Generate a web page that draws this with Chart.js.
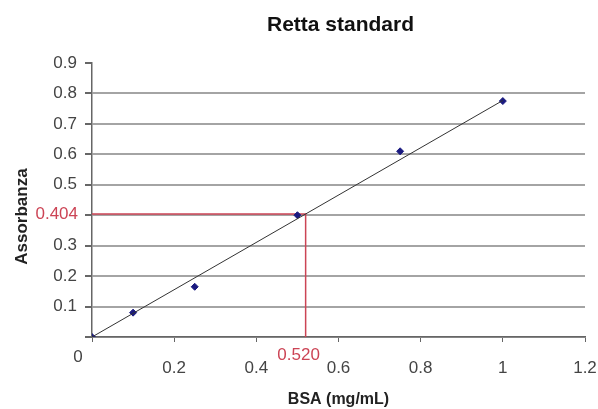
<!DOCTYPE html>
<html>
<head>
<meta charset="utf-8">
<script src="https://cdn.jsdelivr.net/npm/chart.js"></script>
<style>
  html, body { margin: 0; padding: 0; background: #fff; }
  #wrap { width: 598px; height: 409px; }
</style>
</head>
<body>
<div id="wrap"><canvas id="myChart" width="598" height="409"></canvas></div>
<script>
// dati
const bsa = [0, 0.1, 0.25, 0.5, 0.75, 1];
const assorbanza = [0, 0.08, 0.165, 0.40, 0.61, 0.775];
const trendX = [0, 1];
const trendY = [0, 0.777];
const campioneX = 0.520;
const campioneY = 0.404;

const FONT = 'Liberation Sans, Arial, sans-serif';
const RED = '#cc4455';

// titolo, linee rosse e etichette rosse
const extra = {
  id: 'extra',
  beforeDatasetsDraw(chart) {
    const ctx = chart.ctx;
    const x = chart.scales.x, y = chart.scales.y;
    ctx.save();
    ctx.strokeStyle = RED;
    ctx.lineWidth = 1.5;
    ctx.beginPath();
    ctx.moveTo(x.getPixelForValue(0), y.getPixelForValue(campioneY));
    ctx.lineTo(x.getPixelForValue(campioneX), y.getPixelForValue(campioneY));
    ctx.lineTo(x.getPixelForValue(campioneX), y.getPixelForValue(0));
    ctx.stroke();
    ctx.restore();
  },
  afterDraw(chart) {
    const ctx = chart.ctx;
    const x = chart.scales.x, y = chart.scales.y;
    const area = chart.chartArea;
    ctx.save();
    ctx.font = 'bold 21px ' + FONT;
    ctx.fillStyle = '#111';
    ctx.textAlign = 'center';
    ctx.textBaseline = 'middle';
    ctx.fillText('Retta standard', (area.left + area.right) / 2 + 2, 25);

    ctx.font = '17px ' + FONT;
    ctx.fillStyle = '#444';
    ctx.fillText('0', x.getPixelForValue(0) - 14, y.getPixelForValue(0) + 20);

    ctx.fillStyle = RED;
    ctx.textAlign = 'right';
    ctx.fillText(campioneY.toFixed(3), x.getPixelForValue(0) - 14, y.getPixelForValue(campioneY));
    ctx.textAlign = 'center';
    ctx.fillText(campioneX.toFixed(3), x.getPixelForValue(campioneX) - 7, y.getPixelForValue(0) + 18);
    ctx.restore();
  }
};

let ctx = document.getElementById('myChart').getContext('2d');
let chart = new Chart(ctx, {
  type: 'scatter',
  data: {
    datasets: [{
      type: 'line',
      data: trendX.map((v, i) => ({ x: v, y: trendY[i] })),
      borderColor: '#333',
      borderWidth: 1,
      pointRadius: 0,
      fill: false
    }, {
      data: bsa.map((v, i) => ({ x: v, y: assorbanza[i] })),
      backgroundColor: '#1a1a80',
      borderColor: '#1a1a80',
      pointStyle: 'rectRot',
      pointRadius: 3.5
    }]
  },
  options: {
    responsive: false,
    animation: false,
    layout: { padding: { top: 63, right: 13, left: 0, bottom: 0 } },
    plugins: { legend: { display: false }, tooltip: { enabled: false } },
    scales: {
      x: {
        type: 'linear',
        min: 0, max: 1.2,
        afterFit(s) { s.height = 72; s.paddingLeft = 0; s.paddingRight = 0; },
        ticks: {
          stepSize: 0.2,
          color: '#444',
          font: { family: FONT, size: 17 },
          padding: 16,
          maxRotation: 0,
          callback: v => (Math.abs(v) < 1e-9 ? '' : String(Math.round(v * 10) / 10))
        },
        grid: { drawOnChartArea: false, tickLength: 5, tickColor: '#666' },
        border: { color: '#666', width: 1.5 },
        title: {
          display: true,
          text: 'BSA (mg/mL)',
          color: '#222',
          font: { family: FONT, size: 16, weight: 'bold' },
          padding: { top: 0, bottom: 0 }
        }
      },
      y: {
        min: 0, max: 0.9,
        afterFit(s) { s.width = 92; },
        ticks: {
          stepSize: 0.1,
          color: '#444',
          font: { family: FONT, size: 17 },
          padding: 8,
          callback: v => {
            const r = Math.round(v * 10) / 10;
            return (r === 0 || r === 0.4) ? '' : r.toFixed(1);
          }
        },
        grid: {
          tickLength: 7,
          tickColor: '#666',
          lineWidth: 2,
          color: c => (c.tick && c.tick.value > 0.85 ? 'rgba(0,0,0,0)' : '#a4a4a4')
        },
        border: { color: '#666', width: 1.5 },
        title: {
          display: true,
          text: 'Assorbanza       ',
          color: '#222',
          font: { family: FONT, size: 17, weight: 'bold' },
          padding: { top: 12, bottom: 0 }
        }
      }
    }
  },
  plugins: [extra]
});
</script>
</body>
</html>
